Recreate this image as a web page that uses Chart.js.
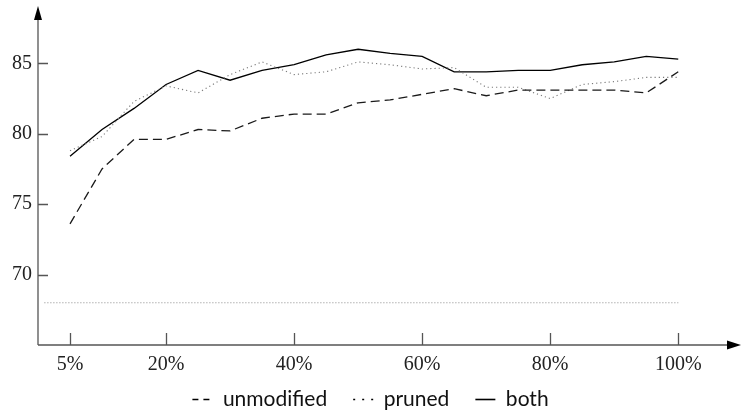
<!DOCTYPE html>
<html>
<head>
<meta charset="utf-8">
<script src="https://cdn.jsdelivr.net/npm/chart.js@4.4.1/dist/chart.umd.min.js"></script>
<style>
  html, body { margin: 0; padding: 0; background: #fff; }
  #wrap { width: 741px; height: 415px; }
</style>
</head>
<body>
<div id="wrap"><canvas id="chart" width="741" height="415"></canvas></div>
<script>
// Share of training data used (%)
const fractions = [5, 10, 15, 20, 25, 30, 35, 40, 45, 50, 55, 60, 65, 70, 75, 80, 85, 90, 95, 100];

// Accuracy per configuration
const unmodified = [73.6, 77.5, 79.6, 79.6, 80.3, 80.2, 81.1, 81.4, 81.4, 82.2, 82.4, 82.8, 83.2, 82.7, 83.1, 83.1, 83.1, 83.1, 82.9, 84.4];
const pruned     = [78.8, 79.8, 82.3, 83.4, 82.9, 84.2, 85.1, 84.2, 84.4, 85.1, 84.9, 84.6, 84.7, 83.3, 83.3, 82.5, 83.5, 83.7, 84.0, 84.0];
const both       = [78.4, 80.3, 81.8, 83.5, 84.5, 83.8, 84.5, 84.9, 85.6, 86.0, 85.7, 85.5, 84.4, 84.4, 84.5, 84.5, 84.9, 85.1, 85.5, 85.3];

// Reference level drawn as a flat dotted line
const baselineX = [1, 100];
const baselineY = [68, 68];

// Axis ticks
const xTicks = [5, 20, 40, 60, 80, 100];
const yTicks = [70, 75, 80, 85];

const seriesNames = ['unmodified', 'pruned', 'both'];

const toPoints = (xs, ys) => xs.map((x, i) => ({ x: x, y: ys[i] }));

// Arrow-headed axes with inward tick marks
const arrowAxes = {
  id: 'arrowAxes',
  afterDatasetsDraw(chart) {
    const { ctx, chartArea: a, scales: { x, y } } = chart;
    ctx.save();
    ctx.strokeStyle = '#555';
    ctx.fillStyle = '#000';
    ctx.lineWidth = 1.3;
    ctx.setLineDash([]);
    // axis lines
    ctx.beginPath();
    ctx.moveTo(a.left, a.bottom);
    ctx.lineTo(a.left, a.top + 8);
    ctx.moveTo(a.left, a.bottom);
    ctx.lineTo(a.right - 8, a.bottom);
    ctx.stroke();
    // arrow heads
    ctx.beginPath();
    ctx.moveTo(a.left, a.top - 1);
    ctx.lineTo(a.left - 4, a.top + 13);
    ctx.lineTo(a.left + 4, a.top + 13);
    ctx.closePath();
    ctx.fill();
    ctx.beginPath();
    ctx.moveTo(a.right, a.bottom);
    ctx.lineTo(a.right - 14, a.bottom - 4.5);
    ctx.lineTo(a.right - 14, a.bottom + 4.5);
    ctx.closePath();
    ctx.fill();
    // tick marks
    ctx.beginPath();
    yTicks.forEach(v => {
      const py = Math.round(y.getPixelForValue(v)) + 0.5;
      ctx.moveTo(a.left, py);
      ctx.lineTo(a.left + 10, py);
    });
    xTicks.forEach(v => {
      const px = Math.round(x.getPixelForValue(v)) + 0.5;
      ctx.moveTo(px, a.bottom);
      ctx.lineTo(px, a.bottom - 12);
    });
    ctx.stroke();
    ctx.restore();
  }
};

// Pull the legend row up a little so it sits closer to the axis labels
const legendNudge = {
  id: 'legendNudge',
  afterLayout(chart) {
    const lg = chart.legend;
    if (lg) {
      lg.top -= 14;
      lg.height += 14;
    }
  }
};

const legendDash = { unmodified: [6, 5], pruned: [2, 7], both: [] };

const noEdgePadding = s => {
  s.paddingTop = 0;
  s.paddingBottom = 0;
  s.paddingLeft = 0;
  s.paddingRight = 0;
};

new Chart(document.getElementById('chart'), {
  type: 'line',
  data: {
    datasets: [
      {
        label: seriesNames[0],
        data: toPoints(fractions, unmodified),
        borderColor: '#1a1a1a',
        borderWidth: 1.3,
        borderDash: [9, 5],
        pointRadius: 0,
        tension: 0
      },
      {
        label: seriesNames[1],
        data: toPoints(fractions, pruned),
        borderColor: '#7a7a7a',
        borderWidth: 1.1,
        borderDash: [1.2, 3],
        pointRadius: 0,
        tension: 0
      },
      {
        label: seriesNames[2],
        data: toPoints(fractions, both),
        borderColor: '#000',
        borderWidth: 1.3,
        pointRadius: 0,
        tension: 0
      },
      {
        label: 'baseline',
        data: toPoints(baselineX, baselineY),
        borderColor: '#8a8a8a',
        borderWidth: 1,
        borderDash: [1, 2],
        pointRadius: 0,
        tension: 0
      }
    ]
  },
  options: {
    responsive: false,
    animation: false,
    devicePixelRatio: 1,
    layout: { padding: { top: 7, right: 0, bottom: 0, left: 0 } },
    scales: {
      x: {
        type: 'linear',
        min: 0,
        max: 109.8,
        grid: { display: false, drawTicks: false },
        border: { display: false },
        afterBuildTicks: s => { s.ticks = xTicks.map(v => ({ value: v })); },
        afterFit: s => { s.height = 32; noEdgePadding(s); },
        ticks: {
          padding: 8,
          color: '#222',
          font: { family: 'Liberation Serif', size: 20 },
          callback: v => v + '%',
          maxRotation: 0,
          autoSkip: false
        }
      },
      y: {
        min: 65,
        max: 89,
        grid: { display: false, drawTicks: false },
        border: { display: false },
        afterBuildTicks: s => { s.ticks = yTicks.map(v => ({ value: v })); },
        afterFit: s => { s.width = 38; noEdgePadding(s); },
        ticks: {
          padding: 6,
          color: '#222',
          font: { family: 'Liberation Serif', size: 20 }
        }
      }
    },
    plugins: {
      tooltip: { enabled: false },
      legend: {
        position: 'bottom',
        maxHeight: 38,
        labels: {
          color: '#111',
          font: { family: 'Lato', size: 21 },
          usePointStyle: true,
          pointStyle: 'line',
          pointStyleWidth: 20,
          padding: 26,
          filter: item => seriesNames.includes(item.text),
          generateLabels: chart => chart.data.datasets.map((ds, i) => ({
            text: ds.label,
            datasetIndex: i,
            pointStyle: 'line',
            strokeStyle: '#000',
            fillStyle: '#000',
            lineWidth: 1.6,
            lineDash: legendDash[ds.label] || [],
            hidden: false,
            fontColor: '#111'
          }))
        }
      }
    }
  },
  plugins: [arrowAxes, legendNudge]
});
</script>
</body>
</html>
